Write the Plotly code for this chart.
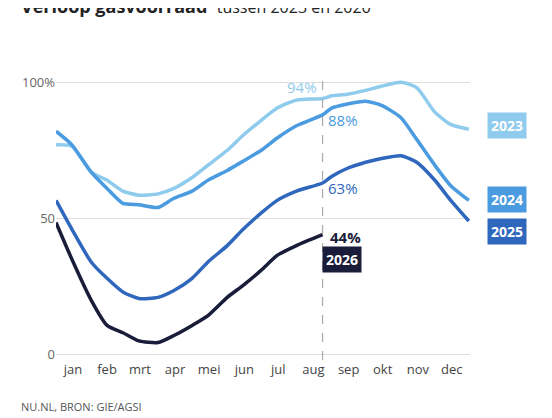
import plotly.graph_objects as go

days = [0,14,31,45,59,73,90,104,120,134,151,165,181,195,212,235,243,257,273,287,304,318,334,348,364]
v2023 = [77,76.5,67,64,60,58.5,59,61,65,69.5,75,80.5,86,90.5,93.4,94,95,95.6,97,98.5,100,98,89,84.5,82.7]
v2024 = [82,77,67,61,55.5,55,54,57.4,60,64,67.6,71,75,79.5,84,88,90.5,92,93,91.5,87,79,69.5,62,56.6]
v2025 = [56.6,46,34,28,23,20.6,21,23.5,28,34,40,46,52,56.6,60,63,65.4,68.4,70.6,72,73,70.6,64,56.6,49]
days2026 = days[:16]
v2026 = [48.5,35,20,10.7,8,5,4.4,7,10.7,14.3,21,25.4,31,36.4,40,44]
months = ["jan","feb","mrt","apr","mei","jun","jul","aug","sep","okt","nov","dec"]
month_mid = [15,45,74,105,135,166,196,227,258,288,319,349]

colors = {"2023":"#8fcbec","2024":"#4a9be0","2025":"#2f67bd","2026":"#1a1d3a"}
fig = go.Figure()
for name, x, y in [("2023",days,v2023),("2024",days,v2024),("2025",days,v2025),("2026",days2026,v2026)]:
    fig.add_trace(go.Scatter(x=x, y=y, mode="lines", line=dict(color=colors[name], width=3.5, shape="spline", smoothing=0.6),
                             showlegend=False, hoverinfo="skip"))

fig.add_shape(type="line", x0=235, x1=235, y0=-2, y1=106, line=dict(color="#aaaaaa", width=1.2, dash="dash"))
ann = [
    dict(x=235, y=108, text="24 augustus", font=dict(size=15, color="#777"), yanchor="bottom", showarrow=False),
    dict(x=232, y=94, text="94%", font=dict(size=15, color=colors["2023"]), xanchor="right", yanchor="bottom", showarrow=False),
    dict(x=238, y=86, text="88%", font=dict(size=15, color=colors["2024"]), xanchor="left", yanchor="middle", showarrow=False),
    dict(x=238, y=61, text="63%", font=dict(size=15, color=colors["2025"]), xanchor="left", yanchor="middle", showarrow=False),
    dict(x=240, y=43, text="<b>44%</b>", font=dict(size=15, color=colors["2026"]), xanchor="left", yanchor="middle", showarrow=False),
    dict(x=252, y=35, text="<b>2026</b>", font=dict(size=14, color="white"), bgcolor=colors["2026"], borderpad=3, showarrow=False),
]
for name, yv in [("2023",84),("2024",57),("2025",45)]:
    ann.append(dict(xref="paper", x=1.04, y=yv, text="<b>"+name+"</b>", font=dict(size=14, color="white"),
                    bgcolor=colors[name], borderpad=3, xanchor="left", showarrow=False))
ann.append(dict(xref="paper", yref="paper", x=-0.09, y=1.19, xanchor="left", yanchor="bottom",
                text="<b>Verloop gasvoorraad</b>  <span style='font-size:16px'>tussen 2023 en 2026</span>",
                font=dict(size=18, color="#222"), showarrow=False))
ann.append(dict(xref="paper", yref="paper", x=-0.09, y=-0.13, xanchor="left", yanchor="top",
                text="NU.NL, BRON: GIE/AGSI", font=dict(size=11, color="#555"), showarrow=False))
fig.update_layout(
    width=552, height=418, margin=dict(l=48, r=90, t=66, b=66),
    plot_bgcolor="white", paper_bgcolor="white", font=dict(family="Open Sans"),
    annotations=ann,
    xaxis=dict(range=[0,365], tickvals=month_mid, ticktext=months, showgrid=False, zeroline=False,
               tickfont=dict(size=13, color="#444"), ticks=""),
    yaxis=dict(range=[-2,103], tickvals=[0,50,100], ticktext=["0","50","100%"], gridcolor="#ddd",
               zeroline=False, tickfont=dict(size=13, color="#666")),
)
fig.write_html("out.html")
